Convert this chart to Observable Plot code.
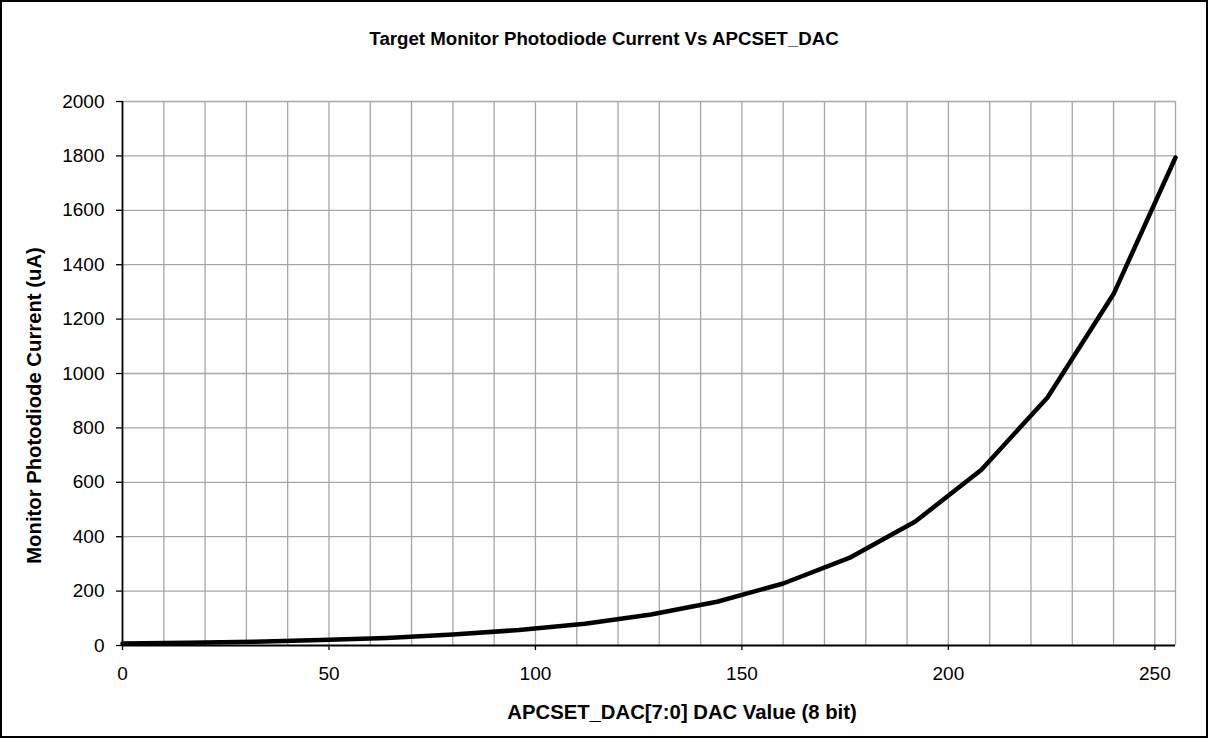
<!DOCTYPE html>
<html>
<head>
<meta charset="utf-8">
<script src="https://cdn.jsdelivr.net/npm/d3@7"></script>
<script src="https://cdn.jsdelivr.net/npm/@observablehq/plot@0.6"></script>
<style>
  html, body { margin: 0; padding: 0; background: #fff; }
  #wrap { position: relative; width: 1208px; height: 738px; outline: 2px solid #000; outline-offset: -2px; font-family: "Liberation Sans", Arial, sans-serif; }
  #title { position: absolute; top: 28px; left: 0; width: 1208px; text-align: center; font-weight: bold; font-size: 18.7px; color: #000; }
  #chart { position: absolute; top: 0; left: 0; }
</style>
</head>
<body>
<div id="wrap">
  <div id="title">Target Monitor Photodiode Current Vs APCSET_DAC</div>
  <div id="chart"></div>
</div>
<script>
const titleText = "Target Monitor Photodiode Current Vs APCSET_DAC";
const xLabel = "APCSET_DAC[7:0] DAC Value (8 bit)";
const yLabel = "Monitor Photodiode Current (uA)";

const dacValues = [0, 16, 32, 48, 64, 80, 96, 112, 128, 144, 160, 176, 192, 208, 224, 240, 255];
const currentUA = [7, 10, 14, 20, 28, 40, 57, 80, 114, 161, 228, 322, 456, 646, 912, 1292, 1794];

const xTicks = [0, 50, 100, 150, 200, 250];
const yTicks = [0, 200, 400, 600, 800, 1000, 1200, 1400, 1600, 1800, 2000];
const xGrid = [10, 20, 30, 40, 50, 60, 70, 80, 90, 100, 110, 120, 130, 140, 150, 160, 170, 180, 190, 200, 210, 220, 230, 240, 250, 255];
const yGrid = [200, 400, 600, 800, 1000, 1200, 1400, 1600, 1800, 2000];

const data = dacValues.map((d, i) => ({dac: d, current: currentUA[i]}));

const chart = Plot.plot({
  width: 1208,
  height: 738,
  marginLeft: 122,
  marginRight: 33,
  marginTop: 101,
  marginBottom: 93,
  style: {fontFamily: "'Liberation Sans', Arial, sans-serif", fontSize: "19px", color: "#000", background: "transparent"},
  x: {domain: [0, 255]},
  y: {domain: [0, 2000]},
  marks: [
    Plot.ruleX(xGrid, {stroke: "#a6a6a6", strokeWidth: 1.3}),
    Plot.ruleY(yGrid, {stroke: "#a6a6a6", strokeWidth: 1.3}),
    Plot.axisX({ticks: xTicks, tickSize: 5, tickPadding: 16, tickFormat: d => String(d), label: null, stroke: "#000", strokeWidth: 1.3, fontSize: 19}),
    Plot.axisY({ticks: yTicks, tickSize: 6, tickPadding: 12, tickFormat: d => String(d), label: null, stroke: "#000", strokeWidth: 1.3, fontSize: 19}),
    Plot.ruleX([0], {stroke: "#000", strokeWidth: 1.8}),
    Plot.ruleY([0], {stroke: "#000", strokeWidth: 1.8}),
    Plot.line(data, {x: "dac", y: "current", stroke: "#000", strokeWidth: 4.5, strokeLinejoin: "round"}),
    Plot.text([xLabel], {text: d => d, frameAnchor: "bottom", textAnchor: "middle", dx: 33, dy: 73, fontWeight: "bold", fontSize: 20.3}),
    Plot.text([yLabel], {text: d => d, frameAnchor: "left", textAnchor: "middle", dx: -88, dy: 32, rotate: -90, fontWeight: "bold", fontSize: 20.3})
  ]
});
document.getElementById("chart").appendChild(chart);
</script>
</body>
</html>
